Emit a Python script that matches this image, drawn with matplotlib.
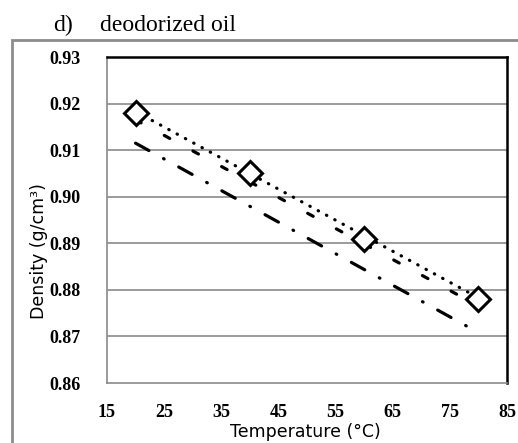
import numpy as np
import matplotlib.pyplot as plt
import matplotlib.patches as patches

plt.rcParams['lines.scale_dashes'] = False

# experimental points
temp_exp = [20, 40, 60, 80]
dens_exp = [0.918, 0.905, 0.891, 0.878]

# model lines (end points)
temp_a = [20, 80]
dens_a = [0.9183, 0.8783]
temp_b = [20, 79]
dens_b = [0.9165, 0.8772]
temp_c = [20, 79]
dens_c = [0.9115, 0.8715]

x_ticks = [15, 25, 35, 45, 55, 65, 75, 85]
y_ticks = [0.86, 0.87, 0.88, 0.89, 0.90, 0.91, 0.92, 0.93]

fig = plt.figure(figsize=(5.18, 4.43), dpi=100)
ax = fig.add_axes([107/518, 1-383/443, 400/518, 326/443])

# outer grey frame
fig.patches.append(patches.Rectangle((12/518, -0.2), 1.2, 1-40/443+0.2,
                                     transform=fig.transFigure, fill=False,
                                     edgecolor='#8c8c8c', lw=2.0))

fig.text(53/518, 1-31/443, 'd)', family='Liberation Serif',
         fontsize=17, va='baseline', ha='left')
fig.text(100/518, 1-31/443, 'deodorized oil', family='Liberation Serif',
         fontsize=17, va='baseline', ha='left')

for y in y_ticks[1:-1]:
    ax.axhline(y, color='#8a8a8a', lw=1.2, zorder=1)

la, = ax.plot(temp_a, dens_a, color='black', lw=2.3, zorder=3)
la.set_dashes((0.3, 6.5))
la.set_dash_capstyle('round')

lb, = ax.plot(temp_b, dens_b, color='black', lw=2.3, zorder=3)
lb.set_dashes((4.5, 19))
lb.set_dash_capstyle('round')

lc, = ax.plot(temp_c, dens_c, color='black', lw=2.3, zorder=3)
lc.set_dashes((11, 12, 0.5, 12))
lc.set_dash_capstyle('round')

ax.plot(temp_exp, dens_exp, linestyle='none', marker='D', ms=12.5,
        mfc='white', mec='black', mew=2.2, zorder=4)

ax.set_xlim(15, 85)
ax.set_ylim(0.86, 0.93)
ax.set_xticks(x_ticks)
ax.set_yticks(y_ticks)
ax.set_yticklabels(['%.2f' % v for v in y_ticks])
ax.tick_params(axis='y', length=0, pad=19, labelsize=13)
ax.tick_params(axis='x', length=0, pad=15, labelsize=13)
for lab in ax.get_xticklabels() + ax.get_yticklabels():
    lab.set_family('Liberation Serif')
    lab.set_weight('bold')

ax.spines['top'].set_color('black')
ax.spines['right'].set_color('black')
ax.spines['top'].set_linewidth(1.8)
ax.spines['right'].set_linewidth(1.8)
ax.spines['left'].set_color('#8a8a8a')
ax.spines['bottom'].set_color('#8a8a8a')
ax.spines['left'].set_linewidth(1.2)
ax.spines['bottom'].set_linewidth(1.2)

ax.set_xlabel('Temperature (°C)', fontsize=12.5, family='DejaVu Sans')
ax.set_ylabel('Density (g/cm³)', fontsize=12.5, family='DejaVu Sans')
ax.xaxis.set_label_coords(0.495, -40/326)
ax.yaxis.set_label_coords(-59/400, (383-251)/326)

fig.savefig('out.png', dpi=100)
